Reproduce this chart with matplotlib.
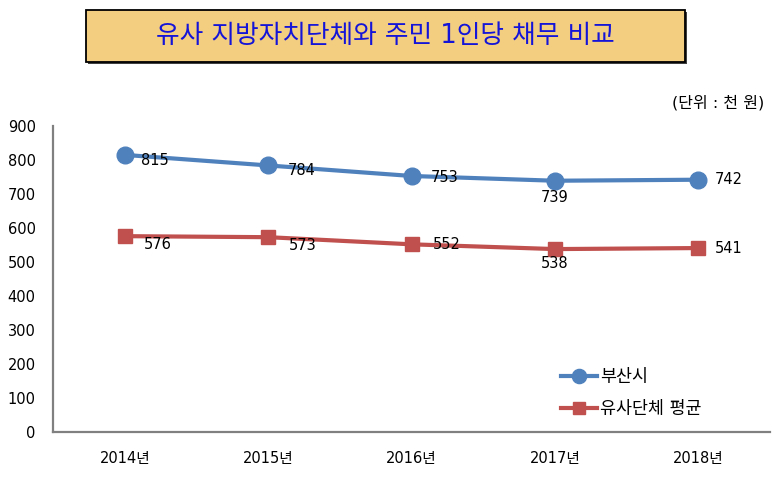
import matplotlib
matplotlib.use("Agg")
import matplotlib.pyplot as plt
from matplotlib.patches import Rectangle

plt.rcParams['font.family'] = ['DejaVu Sans', 'Noto Sans CJK KR']

years = ['2014년', '2015년', '2016년', '2017년', '2018년']
busan = [815, 784, 753, 739, 742]
similar = [576, 573, 552, 538, 541]
series_names = ['부산시', '유사단체 평균']
title = '유사 지방자치단체와 주민 1인당 채무 비교'
unit = '(단위 : 천 원)'
yticks = [0, 100, 200, 300, 400, 500, 600, 700, 800, 900]

W, H = 784, 479
fig = plt.figure(figsize=(W/100, H/100), dpi=100)
ax = fig.add_axes([53/W, 1-432/H, (770-53)/W, (432-126)/H])

x = list(range(len(years)))
blue = '#4F81BD'
red = '#C0504D'
ax.plot(x, busan, color=blue, lw=3.0, marker='o', ms=12, label=series_names[0], zorder=3)
ax.plot(x, similar, color=red, lw=3.0, marker='s', ms=10.5, label=series_names[1], zorder=3)

ax.set_xlim(-0.5, len(years)-0.5)
ax.set_ylim(0, 900)
ax.set_yticks(yticks)
ax.set_yticklabels([str(v) for v in yticks], fontsize=10.5)
ax.set_xticks(x)
ax.set_xticklabels(years, fontsize=10.5)
ax.tick_params(axis='both', length=0)
ax.tick_params(axis='y', pad=12.5)
ax.tick_params(axis='x', pad=14)
for s in ['top', 'right']:
    ax.spines[s].set_visible(False)
for s in ['left', 'bottom']:
    ax.spines[s].set_color('#808080')
    ax.spines[s].set_linewidth(1.6)

# data labels (offsets in points)
b_off = [(12, -4, 'left', 'center'), (14, -4, 'left', 'center'), (14, -1, 'left', 'center'),
         (0, -7, 'center', 'top'), (12, 0, 'left', 'center')]
r_off = [(14, -6, 'left', 'center'), (15, -6, 'left', 'center'), (15, 0, 'left', 'center'),
         (0, -5, 'center', 'top'), (12, 0, 'left', 'center')]
for xi, v, (dx, dy, ha, va) in zip(x, busan, b_off):
    ax.annotate(str(v), (xi, v), xytext=(dx, dy), textcoords='offset points',
                ha=ha, va=va, fontsize=10.5, color='black', zorder=4)
for xi, v, (dx, dy, ha, va) in zip(x, similar, r_off):
    ax.annotate(str(v), (xi, v), xytext=(dx, dy), textcoords='offset points',
                ha=ha, va=va, fontsize=10.5, color='black', zorder=4)

leg = ax.legend(loc='upper left', bbox_to_anchor=((545-53)/(770-53), (432-352)/(432-126)),
                frameon=False, fontsize=12.5, handlelength=2.1, handletextpad=0.15,
                labelspacing=0.85, markerscale=0.85)

# title box
shadow = Rectangle((88/W, 1-64/H), (685-86)/W, (62-10)/H, transform=fig.transFigure,
                   facecolor='#404040', edgecolor='none', zorder=1)
box = Rectangle((86/W, 1-62/H), (685-86)/W, (62-10)/H, transform=fig.transFigure,
                facecolor='#F3CD80', edgecolor='black', lw=1.3, zorder=2)
fig.patches.extend([shadow, box])
fig.text((86+685)/2/W, 1-36/H, title, ha='center', va='center', fontsize=18.5,
         color='#1414D8', zorder=3)
fig.text(764/W, 1-103/H, unit, ha='right', va='center', fontsize=11.5, color='black')

fig.savefig('out.png', dpi=100)
